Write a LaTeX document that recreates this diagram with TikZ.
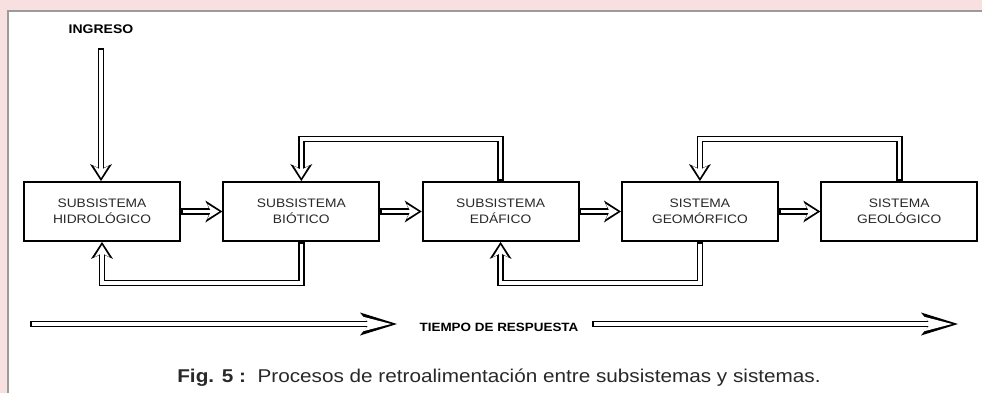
\documentclass[tikz,border=0pt]{standalone}
\usepackage{fontspec}
\setmainfont{Liberation Sans}[FakeStretch=1.12]
\usepackage{tikz}
\usetikzlibrary{arrows.meta}
\usetikzlibrary{positioning}

\definecolor{rosa}{RGB}{248,224,224}
\definecolor{marco}{RGB}{155,155,155}
\definecolor{texto}{RGB}{40,40,40}

\begin{document}
\begin{tikzpicture}[x=1pt,y=-1pt,
    caja/.style={draw,line width=1.8pt,minimum width=156pt,minimum height=59pt,
      align=center,text=texto,font=\fontsize{12.3}{16}\selectfont},
    flecha/.style={preaction={draw=black,line width=6.8pt,shorten >=0pt,shorten <=0pt,
        -{Stealth[length=17pt,width=22pt,inset=5pt,line width=0pt]}},
      draw=white,line width=3.2pt,line join=miter,shorten >=3.2pt,shorten <=1.8pt,
      -{Stealth[length=12pt,width=15pt,inset=4pt,line width=0pt]}},
    flechalarga/.style={preaction={draw=black,line width=6.8pt,shorten >=0pt,shorten <=0pt,
        -{Stealth[length=37pt,width=23pt,inset=9pt,line width=0pt]}},
      draw=white,line width=3.2pt,shorten >=6pt,shorten <=1.8pt,
      -{Stealth[length=29pt,width=15pt,inset=8pt,line width=0pt]}}]
        \useasboundingbox (0,0) rectangle (982,393);
        % fondo y marco
        \fill[rosa] (0,0) rectangle (982,393);
        \fill[white] (8,11) rectangle (990,400);
        \draw[marco,line width=2pt] (8,400) -- (8,11) -- (990,11);

        \node[caja] (hid) at (102,211.5) {SUBSISTEMA\\HIDROLÓGICO};
        \node[caja,right=41.5pt of hid] (bio) {SUBSISTEMA\\BIÓTICO};
        \node[caja,right=41.5pt of bio] (eda) {SUBSISTEMA\\EDÁFICO};
        \node[caja,right=41.5pt of eda] (geom) {SISTEMA\\GEOMÓRFICO};
        \node[caja,right=41.5pt of geom] (geol) {SISTEMA\\GEOLÓGICO};

        \node[font=\bfseries\fontsize{12.5}{14}\selectfont] (ingreso) at (101,29) {INGRESO};
        \coordinate[below=11pt of ingreso] (entrada);
        \draw[flecha] (entrada) -- (entrada |- hid.north);

        \draw[flecha] (hid) -- (bio);
        \draw[flecha] (bio) -- (eda);
        \draw[flecha] (eda) -- (geom);
        \draw[flecha] (geom) -- (geol);

        \draw[flecha] (bio.south) -- ++(0,41) -| (hid.south);
        \draw[flecha] (eda.north) -- ++(0,-42) -| (bio.north);
        \draw[flecha] (geom.south) -- ++(0,41) -| (eda.south);
        \draw[flecha] (geol.north) -- ++(0,-42) -| (geom.north);

        % tiempo de respuesta
        \node[font=\bfseries\fontsize{12}{14}\selectfont] (tiempo) at (499,327) {TIEMPO DE RESPUESTA};
        \coordinate (ta) at (30,324);
        \coordinate (tb) at (397,324);
        \coordinate (tc) at (592,324);
        \coordinate (td) at (958,324);
        \draw[flechalarga] (ta) -- (tb);
        \draw[flechalarga] (tc) -- (td);

        \node[anchor=base,text=texto,font=\fontsize{18.5}{20}\selectfont] (pie) at (499,382)
          {\textbf{Fig. 5 :}\ \ Procesos de retroalimentación entre subsistemas y sistemas.};
\end{tikzpicture}
\end{document}
